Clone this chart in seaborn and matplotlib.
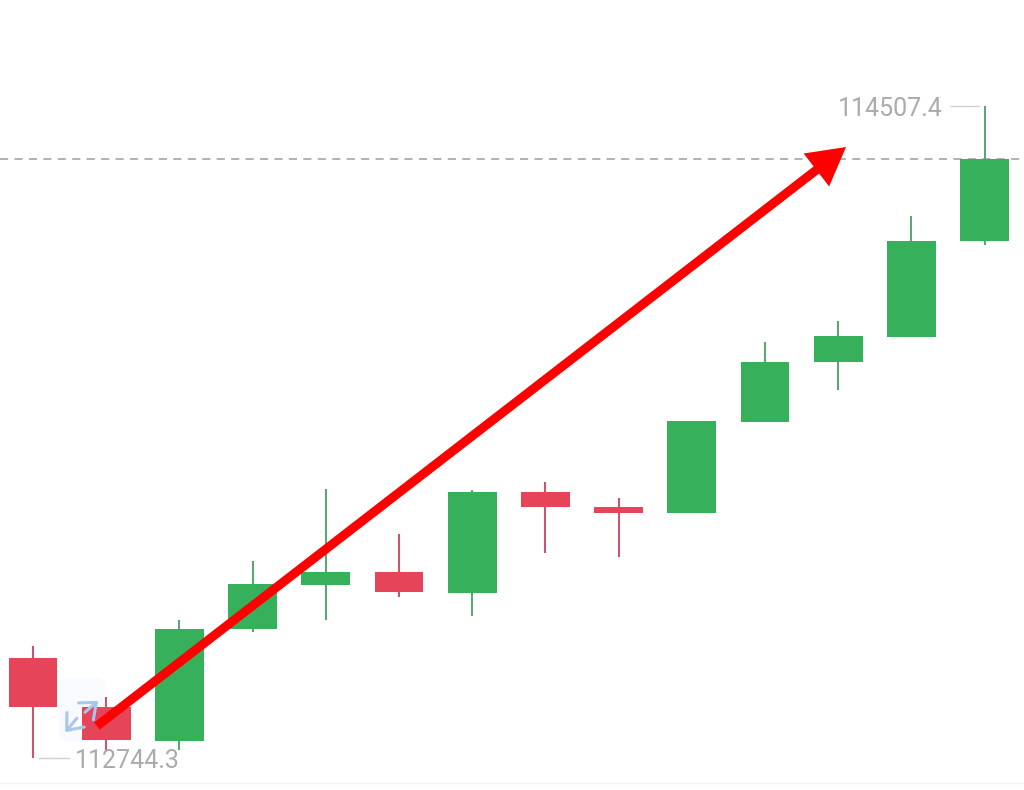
import matplotlib
matplotlib.use("Agg")
import matplotlib.pyplot as plt
from matplotlib.patches import FancyBboxPatch
import pandas as pd
import seaborn as sns

# candle values
candle = list(range(14))
high = [113047.1, 112909.2, 113117.5, 113277.0, 113471.7, 113350.0, 113469.0,
        113490.6, 113447.3, 113655.5, 113869.2, 113925.9, 114209.9, 114507.4]
body_top = [113014.7, 112882.2, 113093.1, 113214.8, 113247.2, 113247.2, 113463.6,
            113463.6, 113423.0, 113655.5, 113815.1, 113885.4, 114142.3, 114364.0]
body_bottom = [112882.2, 112793.0, 112790.3, 113093.1, 113212.1, 113193.2, 113190.5,
               113423.0, 113406.8, 113406.8, 113652.8, 113815.1, 113882.7, 114142.3]
low = [112744.3, 112760.5, 112765.9, 113085.0, 113117.5, 113179.6, 113128.3,
       113298.6, 113287.8, 113406.8, 113652.8, 113739.4, 113882.7, 114131.5]
direction = ["down", "down", "up", "up", "up", "down", "up",
             "down", "down", "up", "up", "up", "up", "up"]

max_label = "114507.4"
min_label = "112744.3"
current_price = 114364.0

df = pd.DataFrame({"candle": candle, "high": high, "top": body_top,
                   "bottom": body_bottom, "low": low, "direction": direction})
df["body"] = df["top"] - df["bottom"]

body_colors = {"up": "#36B05A", "down": "#E54459"}
wick_colors = {"up": "#5CA574", "down": "#C9566A"}

sns.set_style("white")
plt.rcParams["font.family"] = ["Roboto", "DejaVu Sans"]

fig = plt.figure(figsize=(10.24, 7.9), dpi=100)
ax = fig.add_axes([0, 0, 1, 1])

for name, group in df.groupby("direction"):
    sns.barplot(data=group, x="candle", y="body", order=candle, bottom=group["bottom"].values,
                color=body_colors[name], saturation=1, width=0.665, errorbar=None,
                linewidth=0, ax=ax, zorder=2)
    ax.vlines(group["candle"], group["low"], group["high"], color=wick_colors[name],
              linewidth=1.5, zorder=1)

ax.set_xlim(-0.451, 13.538)
ax.set_ylim(112657.8, 114794.0)
ax.set_xlabel("")
ax.set_ylabel("")
ax.set_xticks([])
ax.set_yticks([])
sns.despine(ax=ax, left=True, bottom=True)

# last price line and the faint footer rule
ax.axhline(current_price, color="#ABABAB", linewidth=1.3, linestyle=(0, (4.5, 3.5)), zorder=0.5)
ax.axhline(112676.7, color="#F3F3F3", linewidth=1, zorder=0.5)

# max / min labels with leader lines
ax.plot([12.525, 12.92], [114507.4, 114507.4], color="#CFCFCF", linewidth=1)
ax.text(12.43, 114499.5, max_label, ha="right", va="center", fontsize=18, color="#ABABAB")
ax.plot([0.08, 0.49], [112744.3, 112744.3], color="#CFCFCF", linewidth=1)
ax.text(0.57, 112736.0, min_label, ha="left", va="center", fontsize=18, color="#ABABAB")

# expand icon sitting behind the second candle
ax.add_patch(FancyBboxPatch((0.36, 112790), 0.62, 170, boxstyle="round,pad=0,rounding_size=0.1",
                            mutation_aspect=200, facecolor="#F8FAFE", edgecolor="none", zorder=0.6))
ax.annotate("", xy=(0.89, 112899), xytext=(0.71, 112868), zorder=3,
            arrowprops=dict(arrowstyle="->,head_length=0.55,head_width=0.45", color="#A9C6EC", lw=2.2,
                            shrinkA=0, shrinkB=0, mutation_scale=18))
ax.annotate("", xy=(0.44, 112814), xytext=(0.60, 112852), zorder=3,
            arrowprops=dict(arrowstyle="->,head_length=0.55,head_width=0.45", color="#A9C6EC", lw=2.2,
                            shrinkA=0, shrinkB=0, mutation_scale=18))

# big red arrow
ax.annotate("", xy=(11.107, 114396.4), xytext=(0.874, 112830.8), zorder=5,
            arrowprops=dict(arrowstyle="simple,head_length=27,head_width=30,tail_width=6.5",
                            color="#FF0000", linewidth=0, shrinkA=0, shrinkB=0, mutation_scale=1))

fig.savefig("out.png", dpi=100, facecolor="white")
